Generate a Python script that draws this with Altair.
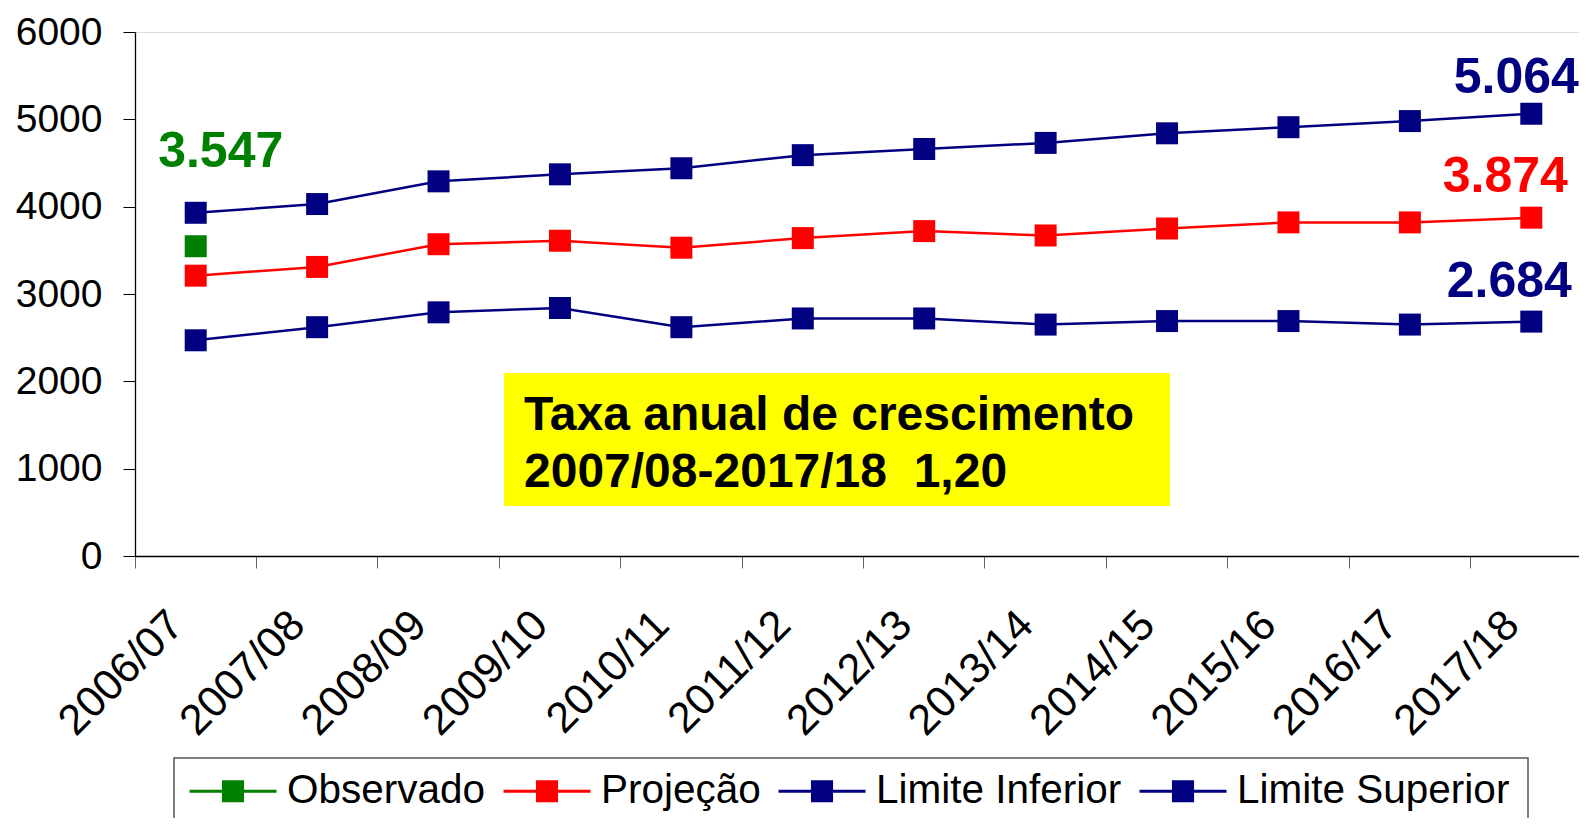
import altair as alt
import pandas as pd

# ---------------- data ----------------
categories = ["2006/07", "2007/08", "2008/09", "2009/10", "2010/11", "2011/12",
              "2012/13", "2013/14", "2014/15", "2015/16", "2016/17", "2017/18"]
observado = [3547, None, None, None, None, None, None, None, None, None, None, None]
projecao = [3210, 3310, 3570, 3610, 3530, 3640, 3720, 3670, 3750, 3820, 3820, 3874]
limite_inferior = [2470, 2620, 2790, 2840, 2620, 2720, 2720, 2650, 2690, 2690, 2650, 2684]
limite_superior = [3930, 4030, 4290, 4370, 4440, 4590, 4660, 4730, 4840, 4910, 4980, 5064]

series_names = ["Observado", "Projeção", "Limite Inferior", "Limite Superior"]
series_colors = ["#008000", "#FF0000", "#000080", "#000080"]
y_ticks = [0, 1000, 2000, 3000, 4000, 5000, 6000]
box_lines = ["Taxa anual de crescimento", "2007/08-2017/18\u00a0 1,20"]

FONT = "Liberation Sans"

rows = []
for name, vals in zip(series_names, [observado, projecao, limite_inferior, limite_superior]):
    for c, v in zip(categories, vals):
        if v is not None:
            rows.append({"ano": c, "valor": v, "serie": name})
df = pd.DataFrame(rows)


def fmt(v):
    return f"{v:,}".replace(",", ".")


x_scale = alt.Scale(type="band", domain=categories, range=[0, 1457],
                    paddingInner=0, paddingOuter=0)
y_scale = alt.Scale(domain=[0, 6000], nice=False, zero=True)
col_scale = alt.Scale(domain=series_names, range=series_colors)

legend_def = alt.Legend(
    title=None, orient="none", legendX=53, legendY=714, direction="horizontal",
    symbolType="M-1,0H1M-0.22,-0.22H0.22V0.22H-0.22Z", symbolSize=7569,
    symbolStrokeWidth=3, labelFontSize=40.5, labelFont=FONT, labelColor="black",
    labelOffset=9, columnPadding=11, padding=0, labelLimit=0,
)

x_enc = alt.X("ano:N", scale=x_scale, sort=categories, title=None,
              axis=alt.Axis(bandPosition=0, labelAngle=-45, labelAlign="right",
                            labelBaseline="top", labelOffset=-34, labelPadding=35,
                            labelFontSize=43, labelFont=FONT, labelColor="black",
                            tickSize=12, tickColor="#666666", domainColor="black",
                            domainWidth=1.3, grid=False, labelOverlap=False))
y_enc = alt.Y("valor:Q", scale=y_scale, title=None,
              axis=alt.Axis(values=y_ticks, labelFontSize=39, labelFont=FONT,
                            labelColor="black", tickSize=12, tickColor="black",
                            domainColor="black", domainWidth=1.3, labelPadding=21,
                            grid=False, format="d"))

points = alt.Chart(df).mark_point(shape="square", filled=True, size=484, opacity=1).encode(
    x=x_enc, y=y_enc,
    fill=alt.Fill("serie:N", scale=col_scale, legend=legend_def, sort=series_names),
)
lines = alt.Chart(df).mark_line(strokeWidth=2.5).encode(
    x=x_enc, y=y_enc,
    stroke=alt.Stroke("serie:N", scale=col_scale, legend=legend_def, sort=series_names),
)


def end_label(cat, val, color, dx, dy):
    d = pd.DataFrame({"ano": [cat], "valor": [val], "txt": [fmt(val)]})
    return alt.Chart(d).mark_text(
        fontSize=50, fontWeight="bold", font=FONT, color=color,
        align="center", baseline="alphabetic", dx=dx, dy=dy,
    ).encode(x=alt.X("ano:N", scale=x_scale, sort=categories),
             y=alt.Y("valor:Q", scale=y_scale), text="txt:N")


lbl_obs = end_label(categories[0], observado[0], "#008000", 25, -79)
lbl_sup = end_label(categories[-1], limite_superior[-1], "#000080", -15, -21)
lbl_proj = end_label(categories[-1], projecao[-1], "#FF0000", -26, -26)
lbl_inf = end_label(categories[-1], limite_inferior[-1], "#000080", -22, -25)

one = pd.DataFrame({"k": [0]})
yellow_box = alt.Chart(one).mark_rect(fill="#FFFF00").encode(
    x=alt.value(369), x2=alt.value(1035), y=alt.value(341), y2=alt.value(474))
box_text = alt.Chart(one).mark_text(
    text=box_lines, fontSize=48, fontWeight="bold", font=FONT, color="black",
    align="left", baseline="alphabetic", lineHeight=57,
).encode(x=alt.value(389), y=alt.value(398))

legend_box = alt.Chart(one).mark_rect(filled=False, stroke="#555555", strokeWidth=1.5).encode(
    x=alt.value(39), x2=alt.value(1393), y=alt.value(726), y2=alt.value(900))

chart = alt.layer(
    legend_box, yellow_box, box_text, lines, points,
    lbl_obs, lbl_sup, lbl_proj, lbl_inf,
).resolve_scale(fill="shared", stroke="shared").properties(
    width=1444, height=524,
    autosize=alt.AutoSizeParams(type="none"),
    padding={"left": 127, "top": 24, "right": 0, "bottom": 262},
).configure_view(stroke=None).configure(background="white")

chart.save("out.html", embed_options={"renderer": "svg", "actions": False})
